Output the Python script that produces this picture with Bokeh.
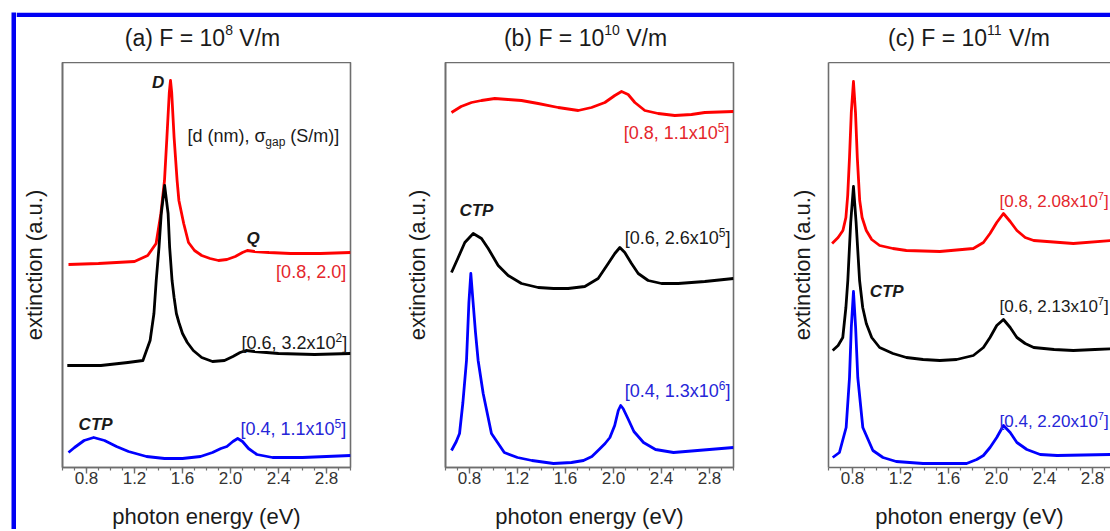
from bokeh.plotting import figure
from bokeh.layouts import row, column
from bokeh.models import (Range1d, FixedTicker, NumeralTickFormatter, Label, LinearAxis, Spacer,
                          BoxAnnotation)
from bokeh.embed import file_html
from bokeh.resources import INLINE

FONT = "Liberation Sans"

# ---------------- data (photon energy eV, extinction a.u.) ----------------
A_RED_E = [0.65, 0.90, 1.20, 1.31, 1.38, 1.42, 1.45, 1.47, 1.49, 1.50, 1.51, 1.53, 1.555, 1.57, 1.61,
           1.65, 1.70, 1.76, 1.83, 1.90, 1.97, 2.04, 2.10, 2.14, 2.20, 2.32, 2.50, 2.75, 3.00]
A_RED_Y = [203, 204, 206, 212, 224, 254, 287, 330, 375, 387, 375, 330, 287, 267, 244,
           225, 217, 212, 209, 207, 208, 211, 215, 217, 216, 215, 214, 214, 215]
A_BLK_E = [0.64, 0.92, 1.145, 1.27, 1.33, 1.362, 1.381, 1.404, 1.423, 1.451, 1.48, 1.493, 1.513,
           1.53, 1.549, 1.57, 1.60, 1.64, 1.69, 1.76, 1.85, 1.95, 2.02, 2.08, 2.13, 2.20, 2.40,
           2.70, 3.00]
A_BLK_Y = [102, 102, 105, 107, 127, 154, 187, 220, 254, 282, 254, 220, 187,
           170, 154, 145, 134, 125, 117, 110, 106, 107, 111, 115, 117, 116, 114,
           113, 114]
A_BLU_E = [0.65, 0.70, 0.78, 0.86, 0.95, 1.05, 1.15, 1.30, 1.45, 1.60, 1.75, 1.85, 1.92, 1.97, 2.02,
           2.06, 2.10, 2.15, 2.22, 2.35, 2.60, 2.80, 3.00]
A_BLU_Y = [15, 20, 27, 30, 27, 21, 16, 11, 9, 9, 11, 15, 19, 21, 26,
           29, 26, 19, 13, 10, 10, 11, 12]

B_RED_E = [0.65, 0.73, 0.817, 0.90, 1.011, 1.12, 1.233, 1.372, 1.539, 1.706, 1.817, 1.928, 2.011,
           2.067, 2.122, 2.178, 2.261, 2.372, 2.511, 2.65, 2.761, 3.00]
B_RED_Y = [355, 361, 365, 367, 369, 368, 367, 364, 360, 357, 360, 365, 372,
           376, 373, 365, 357, 354, 352, 353, 355, 356]
B_BLK_E = [0.65, 0.706, 0.761, 0.831, 0.90, 0.956, 1.039, 1.122, 1.233, 1.372, 1.50, 1.622, 1.761,
           1.872, 1.956, 2.011, 2.053, 2.094, 2.15, 2.206, 2.289, 2.40, 2.539, 2.761, 3.00]
B_BLK_Y = [195, 210, 225, 234, 229, 219, 202, 192, 184, 180, 179, 179, 181,
           189, 204, 214, 220, 215, 204, 194, 187, 184, 184, 186, 189]
B_BLU_E = [0.65, 0.69, 0.717, 0.745, 0.775, 0.795, 0.811, 0.83, 0.85, 0.872, 0.914, 0.983, 1.09, 1.20,
           1.32, 1.50, 1.65, 1.75, 1.82, 1.88, 1.93, 1.97, 2.01, 2.04, 2.06, 2.08, 2.12, 2.17, 2.25,
           2.35, 2.50, 2.70, 3.00]
B_BLU_Y = [17, 26, 34, 65, 107, 165, 194, 165, 135, 107, 74, 34, 15, 10,
           7, 4, 5, 7, 11, 18, 24, 30, 42, 57, 62, 59, 49, 36, 25,
           18, 15, 17, 20]

C_RED_E = [0.63, 0.68, 0.72, 0.745, 0.76, 0.775, 0.79, 0.808, 0.825, 0.84, 0.86, 0.88, 0.915, 0.96,
           1.026, 1.137, 1.249, 1.528, 1.807, 1.891, 1.946, 2.002, 2.058, 2.114, 2.17, 2.239,
           2.31, 2.64, 2.95, 3.00]
C_RED_Y = [224, 230, 237, 250, 272, 310, 355, 386, 355, 310, 267, 250, 237, 228,
           222, 219, 217, 216, 219, 225, 234, 245, 254, 246, 237, 230,
           227, 224, 227, 227]
C_BLK_E = [0.635, 0.68, 0.719, 0.745, 0.761, 0.785, 0.808, 0.83, 0.859, 0.885, 0.915, 0.96, 1.026,
           1.137, 1.249, 1.388, 1.528, 1.668, 1.807, 1.891, 1.946, 2.002, 2.058, 2.114, 2.17,
           2.239, 2.31, 2.48, 2.64, 2.82, 3.00]
C_BLK_Y = [117, 122, 130, 160, 187, 245, 281, 245, 187, 160, 144, 130, 120,
           114, 110, 108, 107, 108, 112, 120, 130, 142, 148, 140, 130,
           124, 120, 118, 117, 118, 119]
C_BLU_E = [0.635, 0.691, 0.747, 0.775, 0.79, 0.808, 0.826, 0.844, 0.886, 0.97, 1.054, 1.164, 1.388,
           1.751, 1.835, 1.891, 1.946, 2.002, 2.058, 2.114, 2.17, 2.253, 2.364, 2.505, 2.95, 3.00]
C_BLU_Y = [10, 15, 40, 90, 140, 176, 140, 90, 40, 17, 10, 6, 4,
           4, 8, 12, 20, 30, 42, 35, 25, 18, 13, 12, 13, 13]

TICKS = [0.8, 1.2, 1.6, 2.0, 2.4, 2.8]
MINOR_TICKS = [0.6, 0.7, 0.8, 0.9, 1.0, 1.1, 1.2, 1.3, 1.4, 1.5, 1.6, 1.7, 1.8, 1.9, 2.0,
               2.1, 2.2, 2.3, 2.4, 2.5, 2.6, 2.7, 2.8, 2.9, 3.0]

TITLE_MAIN = ["(a) F = 10", "(b) F = 10", "(c) F = 10"]
TITLE_EXP = ["8", "10", "11"]
TITLE_UNIT = " V/m"
X_LABEL = "photon energy (eV)"
Y_LABEL = "extinction (a.u.)"

RED, BLACK, BLUE = "#ff0000", "#000000", "#0000ff"
RED_T, BLACK_T, BLUE_T = "#e4262c", "#1a1a1a", "#2626d8"
GRAY = "#6e6e6e"
BORDER_BLUE = "#0000f4"

PX_PER_EV = 120.0          # frame pixels per eV (288 px for 2.4 eV)

# Arial / Liberation Sans advance widths (per 1000 em) for the characters used
ADV = {' ': 278, '(': 333, ')': 333, '[': 278, ']': 278, '.': 278, ',': 278, '/': 278, '=': 584,
       'x': 500, 'a': 556, 'b': 556, 'c': 500, 'd': 556, 'g': 556, 'm': 833, 'n': 556, 'p': 556,
       'F': 611, 'S': 667, 'V': 667, '\u03c3': 600}


def text_w(s, size):
    return sum(ADV.get(ch, 556) for ch in s) * size / 1000.0


def rich(p, x, y, parts, color, align="right", style="normal", scale=PX_PER_EV):
    """Draw a text made of parts (text, font px, vertical shift px) as consecutive labels."""
    widths = [text_w(t, s) for t, s, _ in parts]
    total = sum(widths)
    off = {"left": 0.0, "right": -total, "center": -total / 2.0}[align]
    for (t, s, dy), w in zip(parts, widths):
        stripped = t.lstrip(" ")
        lead = text_w(t[:len(t) - len(stripped)], s)
        p.add_layout(Label(x=x + (off + lead) / scale, y=y + dy, text=stripped,
                           text_color=color, text_align="left", text_baseline="middle",
                           text_font=FONT, text_font_size=f"{s}px", text_font_style=style))
        off += w


def make_panel(x_end, frame_w, mbl, mbr, ylab_standoff, full_outline=True):
    p = figure(frame_width=frame_w, frame_height=405, title=None,
               min_border_left=mbl, min_border_right=mbr, min_border_top=0, min_border_bottom=63,
               x_range=Range1d(0.6, x_end), y_range=Range1d(0, 405),
               x_axis_label=X_LABEL, y_axis_label=Y_LABEL,
               output_backend="svg", toolbar_location=None)
    p.xgrid.grid_line_color = None
    p.ygrid.grid_line_color = None
    p.background_fill_color = "white"
    p.border_fill_color = "white"

    xa = p.below[0]
    xa.ticker = FixedTicker(ticks=TICKS, minor_ticks=MINOR_TICKS)
    xa.formatter = NumeralTickFormatter(format="0.0")
    xa.major_tick_out = 6
    xa.major_tick_in = 0
    xa.minor_tick_out = 3
    xa.minor_tick_in = 0
    xa.axis_line_color = GRAY
    xa.axis_line_width = 1.6
    xa.major_tick_line_color = GRAY
    xa.major_tick_line_width = 1.4
    xa.minor_tick_line_color = GRAY
    xa.minor_tick_line_width = 1.2
    xa.major_label_text_font = FONT
    xa.major_label_text_font_size = "17px"
    xa.major_label_text_color = "#333333"
    xa.major_label_standoff = -2
    xa.axis_label_standoff = 17
    xa.axis_label_text_font = FONT
    xa.axis_label_text_font_size = "22px"
    xa.axis_label_text_font_style = "normal"
    xa.axis_label_text_color = "#1a1a1a"

    ya = p.left[0]
    ya.ticker = FixedTicker(ticks=[])
    ya.major_tick_out = 0
    ya.major_tick_in = 0
    ya.minor_tick_out = 0
    ya.minor_tick_in = 0
    ya.major_label_standoff = 0
    ya.axis_line_color = GRAY
    ya.axis_line_width = 1.6
    ya.axis_label_standoff = ylab_standoff
    ya.axis_label_text_font = FONT
    ya.axis_label_text_font_size = "22px"
    ya.axis_label_text_font_style = "normal"
    ya.axis_label_text_color = "#1a1a1a"

    if full_outline:
        p.outline_line_color = GRAY
        p.outline_line_width = 1.6
    else:
        p.outline_line_color = None
        top = LinearAxis(ticker=FixedTicker(ticks=[]), major_tick_out=0, major_tick_in=0,
                         minor_tick_out=0, minor_tick_in=0, major_label_standoff=0,
                         axis_line_color=GRAY, axis_line_width=1.6)
        p.add_layout(top, "above")
    return p


def sup_label(p, x, y, main, exp, color, align="right", size=18):
    rich(p, x, y, [(main, size, 0), (exp, size - 6, 5.5), ("]", size, 0)], color, align=align)


def tag(p, x, y, text):
    p.add_layout(Label(x=x, y=y, text=text, text_color=BLACK_T, text_align="center",
                       text_baseline="middle", text_font=FONT, text_font_size="17px",
                       text_font_style="bold italic"))


LW = 2.8

# ---- panel (a)
pa = make_panel(3.0, 288, 46, 49, 16)
for xs, ys, c in [(A_RED_E, A_RED_Y, RED), (A_BLK_E, A_BLK_Y, BLACK), (A_BLU_E, A_BLU_Y, BLUE)]:
    pa.line(xs, ys, line_color=c, line_width=LW, line_join="round")
tag(pa, 1.398, 385, "D")
tag(pa, 2.189, 229, "Q")
tag(pa, 0.876, 43, "CTP")
rich(pa, 1.642, 332, [("[d (nm), \u03c3", 18, 0), ("gap", 12, -6), (" (S/m)]", 18, 0)],
     BLACK_T, align="left")
rich(pa, 2.964, 196, [("[0.8, 2.0]", 18, 0)], RED_T)
sup_label(pa, 2.973, 125, "[0.6, 3.2x10", "2", BLACK_T)
sup_label(pa, 2.964, 39, "[0.4, 1.1x10", "5", BLUE_T)

# ---- panel (b)
pb = make_panel(3.0, 288, 46, 49, 16)
for xs, ys, c in [(B_RED_E, B_RED_Y, RED), (B_BLK_E, B_BLK_Y, BLACK), (B_BLU_E, B_BLU_Y, BLUE)]:
    pb.line(xs, ys, line_color=c, line_width=LW, line_join="round")
tag(pb, 0.858, 257, "CTP")
sup_label(pb, 2.967, 335, "[0.8, 1.1x10", "5", RED_T)
sup_label(pb, 2.975, 230, "[0.6, 2.6x10", "5", BLACK_T)
sup_label(pb, 2.975, 77, "[0.4, 1.3x10", "6", BLUE_T)

# ---- panel (c) (cut off on the right as in the reference)
pc = make_panel(2.95, 282, 46, 0, 14, full_outline=False)
for xs, ys, c in [(C_RED_E, C_RED_Y, RED), (C_BLK_E, C_BLK_Y, BLACK), (C_BLU_E, C_BLU_Y, BLUE)]:
    pc.line(xs, ys, line_color=c, line_width=LW, line_join="round")
tag(pc, 1.085, 176, "CTP")
sup_label(pc, 2.935, 266, "[0.8, 2.08x10", "7", RED_T, size=17)
sup_label(pc, 2.935, 161, "[0.6, 2.13x10", "7", BLACK_T, size=17)
sup_label(pc, 2.935, 46, "[0.4, 2.20x10", "7", BLUE_T, size=17)

# ---- title strip (page-pixel coordinates) with the blue frame line on top
strip = figure(frame_width=1094, frame_height=50, title=None, min_border=0,
               x_axis_location=None, y_axis_location=None,
               x_range=Range1d(16, 1110), y_range=Range1d(0, 50),
               output_backend="svg", toolbar_location=None)
strip.outline_line_color = None
strip.grid.grid_line_color = None
strip.add_layout(BoxAnnotation(bottom=45.5, fill_color=BORDER_BLUE, fill_alpha=1.0,
                               line_color=None))
for i, cx in enumerate([202, 585, 968.5]):
    rich(strip, cx, 25, [(TITLE_MAIN[i], 23, 0), (TITLE_EXP[i], 14, 8), (TITLE_UNIT, 23, 0)],
         "#1a1a1a", align="center", scale=1.0)

# ---- left blue frame line
left_bar = figure(frame_width=5, frame_height=517, title=None, min_border=0,
                  x_axis_location=None, y_axis_location=None,
                  x_range=Range1d(0, 1), y_range=Range1d(0, 1),
                  output_backend="svg", toolbar_location=None)
left_bar.background_fill_color = BORDER_BLUE
left_bar.border_fill_color = BORDER_BLUE
left_bar.outline_line_color = None
left_bar.grid.grid_line_color = None

layout = column(
    Spacer(width=1110, height=12),
    row(Spacer(width=11, height=517), left_bar, column(strip, row(pa, pb, pc))),
)

open("out.html", "w").write(file_html(layout, INLINE))
